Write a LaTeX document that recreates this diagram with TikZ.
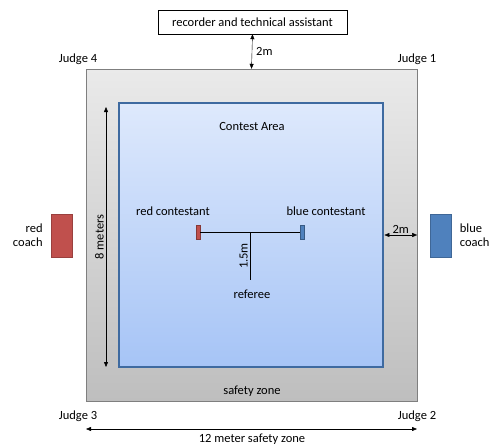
\documentclass[tikz,border=0pt]{standalone}
\usepackage{fontspec}
\setmainfont{Carlito}
\usetikzlibrary{arrows.meta,positioning,calc}
\definecolor{zonegray}{HTML}{7F7F7F}
\definecolor{zonetop}{HTML}{EAEAEA}
\definecolor{zonebot}{HTML}{BEBEBE}
\definecolor{mattop}{HTML}{DEE9FC}
\definecolor{matbot}{HTML}{A6C4F6}
\definecolor{matblue}{HTML}{3E6AA0}
\definecolor{redside}{HTML}{C0504D}
\definecolor{blueside}{HTML}{4F81BD}
\begin{document}
\begin{tikzpicture}[x=1pt,y=-1pt,>={Triangle[length=5pt,width=4pt]},
  font=\fontsize{12.5}{14}\selectfont,
  lbl/.style={inner sep=1pt},
  vlbl/.style={inner sep=2pt,rotate=90,anchor=south},
  dim/.style={<->,thin},
  marker/.style={minimum width=4,minimum height=14,inner sep=0,draw=#1!70!black,fill=#1},
  coachbox/.style={minimum width=21,minimum height=43,inner sep=0,draw=#1!80!black,fill=#1}]
  \useasboundingbox (0,0) rectangle (493,445);
  \node[draw,minimum width=189,minimum height=24,inner sep=0] (rec) at (252.5,22) {recorder and technical assistant};
  \node[draw=zonegray,top color=zonetop,bottom color=zonebot,minimum width=331,minimum height=332,inner sep=0] (safety) at (251.5,235) {};
  \node[draw=matblue,line width=2.8pt,top color=mattop,bottom color=matbot,minimum width=264,minimum height=264,inner sep=0] (contest) at (251,235) {};
  \node[lbl] (judgefour) at (78,59) {Judge 4};
  \node[lbl] (judgeone) at (417,59) {Judge 1};
  \node[lbl] (judgethree) at (78,416) {Judge 3};
  \node[lbl] (judgetwo) at (417,416) {Judge 2};
  \node[lbl] (area) at (252,126) {Contest Area};
  \node[lbl] (zone) at (252,391) {safety zone};
  \node[lbl] (width) at (252,439) {12 meter safety zone};
  \draw[dim] (rec.south) -- node[right,lbl,xshift=3pt] (topgap) {2m} (safety.north);
  \coordinate (lentop) at (106,107);
  \coordinate (lenbot) at (106,367);
  \draw[dim] (lentop) -- node[vlbl] (length) {8 meters} (lenbot);
  \draw[dim] (contest.east) -- node[above,lbl] (sidegap) {2m} (safety.east);
  \coordinate (wleft) at (86,429);
  \coordinate (wright) at (417,429);
  \draw[dim] (wleft) -- (wright);
  \node[coachbox=redside] (redcoach) at (61.5,235.5) {};
  \node[coachbox=blueside] (bluecoach) at (441,235.5) {};
  \node[left=7pt of redcoach,align=right,lbl] (redcoachlbl) {red\\coach};
  \node[right=7pt of bluecoach,align=left,lbl] (bluecoachlbl) {blue\\coach};
  \node[marker=redside] (red) at (198,232) {};
  \node[marker=blueside] (blue) at (302,232) {};
  \node[lbl] (redlbl) at (173,211) {red contestant};
  \node[lbl] (bluelbl) at (326,211) {blue contestant};
  \draw (red.east) -- (blue.west);
  \coordinate (mid) at ($(red.east)!0.5!(blue.west)$);
  \node[lbl] (referee) at (252,294) {referee};
  \draw (mid) -- node[vlbl] (refgap) {1.5m} (mid |- 0,280);
\end{tikzpicture}
\end{document}
